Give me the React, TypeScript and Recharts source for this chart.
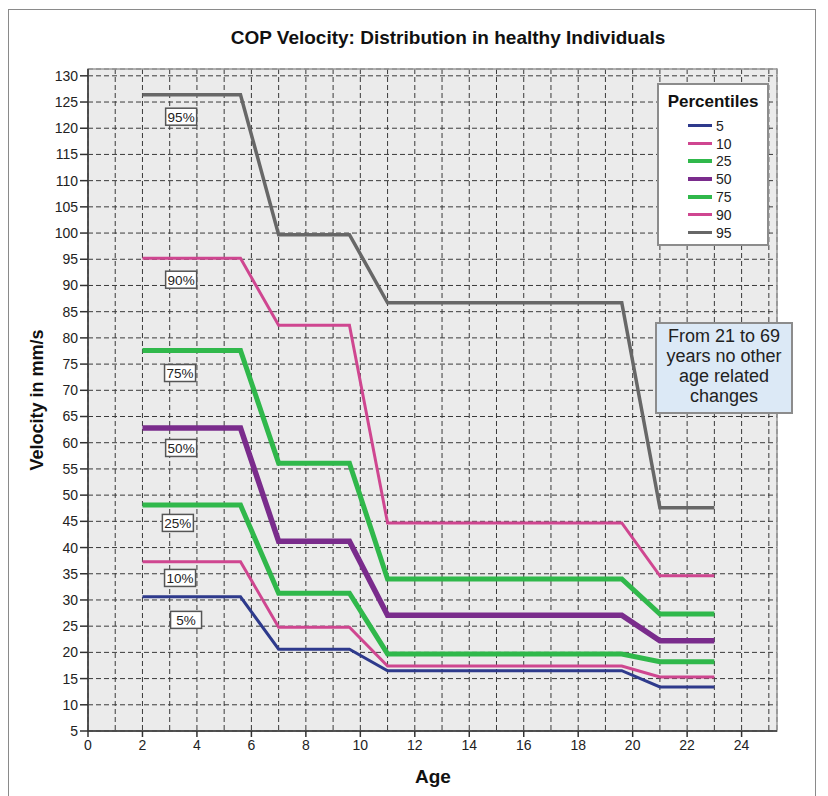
import {
  LineChart,
  Line,
  XAxis,
  YAxis,
  CartesianGrid,
  ReferenceDot,
  ReferenceArea,
} from "recharts";

// ages where the percentile curves change
const ages = [2, 5.6, 7, 9.6, 11, 19.6, 21, 23];

const p5 = [30.6, 30.6, 20.6, 20.6, 16.5, 16.5, 13.4, 13.4];
const p10 = [37.3, 37.3, 24.8, 24.8, 17.4, 17.4, 15.3, 15.3];
const p25 = [48.1, 48.1, 31.3, 31.3, 19.7, 19.7, 18.2, 18.2];
const p50 = [62.8, 62.8, 41.2, 41.2, 27.1, 27.1, 22.2, 22.2];
const p75 = [77.6, 77.6, 56.1, 56.1, 34.0, 34.0, 27.3, 27.3];
const p90 = [95.2, 95.2, 82.4, 82.4, 44.7, 44.7, 34.6, 34.6];
const p95 = [126.4, 126.4, 99.7, 99.7, 86.7, 86.7, 47.6, 47.6];

const xTicks = [0, 2, 4, 6, 8, 10, 12, 14, 16, 18, 20, 22, 24];
const xGridTicks = [
  0, 1, 2, 3, 4, 5, 6, 7, 8, 9, 10, 11, 12, 13, 14, 15, 16, 17, 18, 19, 20,
  21, 22, 23, 24, 25,
];
const yTicks = [
  5, 10, 15, 20, 25, 30, 35, 40, 45, 50, 55, 60, 65, 70, 75, 80, 85, 90, 95,
  100, 105, 110, 115, 120, 125, 130,
];

// percent tags next to each curve (age, value)
const tagText = ["95%", "90%", "75%", "50%", "25%", "10%", "5%"];
const tagAge = [3.42, 3.42, 3.38, 3.42, 3.3, 3.38, 3.6];
const tagValue = [122.2, 91.1, 73.3, 59.0, 44.7, 34.2, 26.2];

const series = [
  { key: "p5", name: "5", color: "#2e3a8c", width: 3 },
  { key: "p10", name: "10", color: "#cf4690", width: 3 },
  { key: "p25", name: "25", color: "#30b84b", width: 5 },
  { key: "p50", name: "50", color: "#7a2c8c", width: 5.5 },
  { key: "p75", name: "75", color: "#30b84b", width: 5 },
  { key: "p90", name: "90", color: "#cf4690", width: 3 },
  { key: "p95", name: "95", color: "#676767", width: 3.5 },
];

const data = ages.map((age, i) => ({
  age,
  p5: p5[i],
  p10: p10[i],
  p25: p25[i],
  p50: p50[i],
  p75: p75[i],
  p90: p90[i],
  p95: p95[i],
}));

const font = "'Liberation Sans', Arial, sans-serif";

const PctTag = (props: any) => {
  const { cx, cy, text } = props;
  return (
    <g>
      <rect
        x={cx - 15.5}
        y={cy - 8.5}
        width={31}
        height={17}
        fill="#fff"
        stroke="#555"
        strokeWidth={1.5}
      />
      <text
        x={cx}
        y={cy + 5}
        textAnchor="middle"
        fontSize={13.5}
        fontFamily={font}
        fill="#222"
      >
        {text}
      </text>
    </g>
  );
};

export default function App() {
  return (
    <div
      style={{
        position: "absolute",
        left: 0,
        top: 0,
        width: 828,
        height: 796,
        background: "#fff",
        fontFamily: font,
        overflow: "hidden",
      }}
    >
      <div
        style={{
          position: "absolute",
          left: 8,
          top: 9,
          width: 806,
          height: 800,
          border: "1px solid #8a8a8a",
        }}
      />
      <div
        style={{
          position: "absolute",
          left: 0,
          width: 896,
          top: 27,
          textAlign: "center",
          fontWeight: "bold",
          fontSize: 19,
          color: "#111",
        }}
      >
        COP Velocity: Distribution in healthy Individuals
      </div>

      <LineChart
        width={828}
        height={796}
        data={data}
        margin={{ top: 69, left: 28, right: 51, bottom: 35 }}
        style={{ position: "absolute", left: 0, top: 0 }}
      >
        <CartesianGrid
          xAxisId="grid"
          fill="#ebebeb"
          stroke="#3a3a3a"
          strokeDasharray="5 3"
        />
        <XAxis
          xAxisId="grid"
          type="number"
          dataKey="age"
          domain={[0, 25.3]}
          ticks={xGridTicks}
          allowDataOverflow
          hide
        />
        <XAxis
          type="number"
          dataKey="age"
          domain={[0, 25.3]}
          ticks={xTicks}
          allowDataOverflow
          height={30}
          tickSize={6}
          tickMargin={3}
          stroke="#333"
          strokeWidth={1.5}
          tick={{ fontSize: 14, fill: "#222", fontFamily: font }}
          tickLine={{ stroke: "#333", strokeWidth: 1.5 }}
        />
        <YAxis
          type="number"
          domain={[5, 131.3]}
          ticks={yTicks}
          allowDataOverflow
          width={60}
          tickSize={8}
          tickMargin={2}
          stroke="#333"
          strokeWidth={1.5}
          tick={{ fontSize: 14, fill: "#222", fontFamily: font }}
          tickLine={{ stroke: "#333", strokeWidth: 1.5 }}
        />
        <ReferenceArea
          x1={0}
          x2={25.3}
          y1={5}
          y2={131.3}
          fill="none"
          stroke="#9a9a9a"
          strokeWidth={1.5}
          ifOverflow="visible"
        />
        {series.map((s) => (
          <Line
            key={s.key}
            type="linear"
            dataKey={s.key}
            name={s.name}
            stroke={s.color}
            strokeWidth={s.width}
            dot={false}
            activeDot={false}
            isAnimationActive={false}
          />
        ))}
        {tagText.map((t, i) => (
          <ReferenceDot
            key={t}
            x={tagAge[i]}
            y={tagValue[i]}
            shape={(p: any) => <PctTag {...p} text={t} />}
          />
        ))}
      </LineChart>

      <div
        style={{
          position: "absolute",
          left: 37,
          top: 400,
          transform: "translate(-50%, -50%) rotate(-90deg)",
          whiteSpace: "nowrap",
          fontWeight: "bold",
          fontSize: 18,
          color: "#111",
        }}
      >
        Velocity in mm/s
      </div>
      <div
        style={{
          position: "absolute",
          left: 415,
          top: 766,
          fontWeight: "bold",
          fontSize: 19,
          color: "#111",
        }}
      >
        Age
      </div>

      {/* legend */}
      <div
        style={{
          position: "absolute",
          left: 657,
          top: 83,
          width: 108,
          height: 159,
          background: "#fff",
          border: "2px solid #8c8c8c",
        }}
      >
        <div
          style={{
            textAlign: "center",
            fontWeight: "bold",
            fontSize: 17,
            marginTop: 7,
            color: "#111",
          }}
        >
          Percentiles
        </div>
        <div style={{ marginTop: 5 }}>
          {series.map((s) => (
            <div
              key={s.key}
              style={{
                display: "flex",
                alignItems: "center",
                height: 17.8,
                paddingLeft: 29,
              }}
            >
              <span
                style={{
                  display: "inline-block",
                  width: 24,
                  height: s.width > 4 ? 4 : 3,
                  background: s.color,
                  marginRight: 4,
                }}
              />
              <span style={{ fontSize: 14, color: "#222" }}>{s.name}</span>
            </div>
          ))}
        </div>
      </div>

      {/* note box */}
      <div
        style={{
          position: "absolute",
          left: 655,
          top: 322,
          width: 134,
          height: 86,
          background: "#dce9f6",
          border: "2px solid #8c8c8c",
          fontSize: 18,
          lineHeight: "20px",
          textAlign: "center",
          color: "#222",
          paddingTop: 2,
          boxSizing: "content-box",
        }}
      >
        From 21 to 69
        <br />
        years no other
        <br />
        age related
        <br />
        changes
      </div>
    </div>
  );
}
